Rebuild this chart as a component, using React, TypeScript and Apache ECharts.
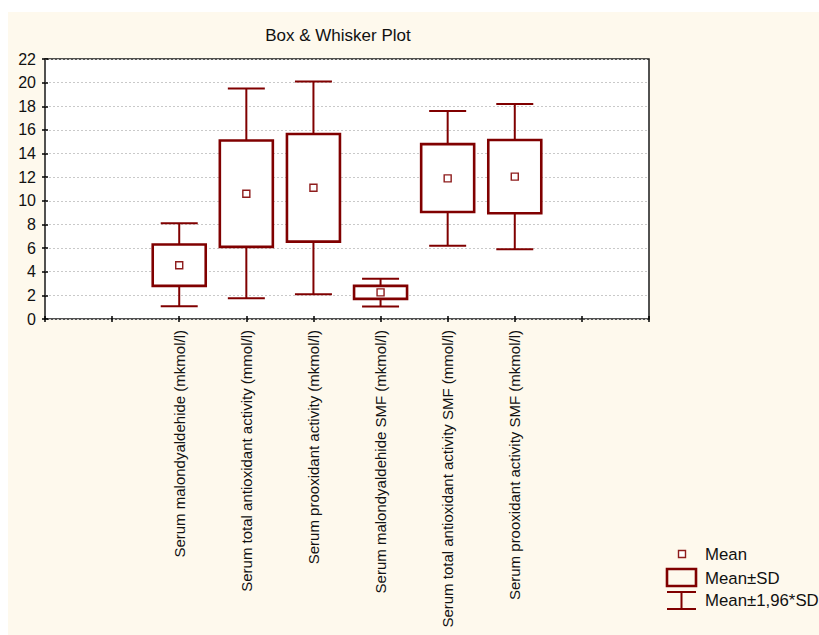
import React, { useEffect, useRef } from "react";
import * as echarts from "echarts";

const categories = [
  "Serum malondyaldehide (mkmol/l)",
  "Serum total antioxidant activity (mmol/l)",
  "Serum prooxidant activity (mkmol/l)",
  "Serum malondyaldehide SMF (mkmol/l)",
  "Serum total antioxidant activity SMF (mmol/l)",
  "Serum prooxidant activity SMF (mkmol/l)",
];
const positions = [2, 3, 4, 5, 6, 7];
const means = [4.55, 10.6, 11.1, 2.25, 11.9, 12.05];
const sdLower = [2.8, 6.1, 6.55, 1.7, 9.05, 8.95];
const sdUpper = [6.3, 15.1, 15.65, 2.8, 14.8, 15.15];
const ciLower = [1.08, 1.75, 2.1, 1.05, 6.2, 5.9];
const ciUpper = [8.1, 19.5, 20.1, 3.4, 17.6, 18.2];
const yTicks = [0, 2, 4, 6, 8, 10, 12, 14, 16, 18, 20, 22];

const RED = "#800000";
const FONT = "'Liberation Sans', Arial, sans-serif";
const TEXT = "#111";

export default function App() {
  const ref = useRef<HTMLDivElement>(null);
  useEffect(() => {
    if (!ref.current) return;
    const chart = echarts.init(ref.current, null, { renderer: "svg" });
    const boxData = positions.map((p, i) => [p, ciLower[i], sdLower[i], sdUpper[i], ciUpper[i]]);
    const meanData = positions.map((p, i) => [p, means[i]]);
    const yMin = yTicks[0];
    const yMax = yTicks[yTicks.length - 1];
    const yInt = yTicks[1] - yTicks[0];
    const labelFor = (v: number) => {
      const idx = positions.indexOf(v);
      return idx >= 0 ? categories[idx] : "";
    };
    const option: any = {
      animation: false,
      backgroundColor: "#fef9ed",
      textStyle: { fontFamily: FONT },
      grid: {
        left: 37,
        right: 170,
        top: 47,
        bottom: 316,
        show: true,
        backgroundColor: "#ffffff",
        borderColor: "#1a1a1a",
        borderWidth: 1.5,
      },
      xAxis: [
        {
          type: "value",
          min: 0,
          max: 9,
          interval: 1,
          position: "bottom",
          splitLine: { show: false },
          axisLine: { show: false },
          axisTick: { show: true, inside: true, length: 3, lineStyle: { color: "#000", width: 1.5 } },
          axisLabel: {
            rotate: 90,
            margin: 11,
            formatter: (v: number) => labelFor(v),
            fontSize: 15,
            color: TEXT,
            fontFamily: FONT,
            showMinLabel: true,
            showMaxLabel: true,
          },
        },
        {
          type: "value",
          min: 0,
          max: 9,
          interval: 1,
          position: "top",
          splitLine: { show: false },
          axisLine: { show: false },
          axisTick: { show: true, inside: true, length: 3, lineStyle: { color: "#000", width: 1.5 } },
          axisLabel: { show: false },
        },
      ],
      yAxis: [
        {
          type: "value",
          min: yMin,
          max: yMax,
          interval: yInt,
          position: "left",
          axisLine: { show: false },
          axisTick: { show: true, inside: true, length: 3, lineStyle: { color: "#000", width: 1.5 } },
          axisLabel: { margin: 9, fontSize: 16, color: TEXT, fontFamily: FONT },
          splitLine: { show: true, lineStyle: { color: "#c9c9c9", type: [2, 2], width: 1 } },
        },
        {
          type: "value",
          min: yMin,
          max: yMax,
          interval: yInt,
          position: "right",
          axisLine: { show: false },
          axisTick: { show: true, inside: true, length: 3, lineStyle: { color: "#000", width: 1.5 } },
          axisLabel: { show: false },
          splitLine: { show: false },
        },
      ],
      series: [
        {
          type: "custom",
          xAxisIndex: 0,
          yAxisIndex: 0,
          data: boxData,
          encode: { x: 0, y: [1, 2, 3, 4] },
          z: 3,
          renderItem: (params: any, api: any) => {
            const x = api.value(0);
            const pCiLow = api.coord([x, api.value(1)]);
            const pSdLow = api.coord([x, api.value(2)]);
            const pSdHigh = api.coord([x, api.value(3)]);
            const pCiHigh = api.coord([x, api.value(4)]);
            const cx = pCiLow[0];
            const boxW = 53;
            const capW = 37;
            const ls = { stroke: RED, lineWidth: 2 };
            return {
              type: "group",
              children: [
                { type: "line", shape: { x1: cx, y1: pCiLow[1], x2: cx, y2: pSdLow[1] }, style: ls },
                { type: "line", shape: { x1: cx, y1: pCiHigh[1], x2: cx, y2: pSdHigh[1] }, style: ls },
                { type: "line", shape: { x1: cx - capW / 2, y1: pCiLow[1], x2: cx + capW / 2, y2: pCiLow[1] }, style: ls },
                { type: "line", shape: { x1: cx - capW / 2, y1: pCiHigh[1], x2: cx + capW / 2, y2: pCiHigh[1] }, style: ls },
                {
                  type: "rect",
                  shape: { x: cx - boxW / 2, y: pSdHigh[1], width: boxW, height: pSdLow[1] - pSdHigh[1] },
                  style: { fill: "#ffffff", stroke: RED, lineWidth: 2.6 },
                },
              ],
            };
          },
        },
        {
          type: "scatter",
          xAxisIndex: 0,
          yAxisIndex: 0,
          data: meanData,
          symbol: "rect",
          symbolSize: 7,
          z: 5,
          itemStyle: { color: "#ffffff", borderColor: "#8e1c1c", borderWidth: 1.4, opacity: 1 },
        },
      ],
      graphic: [
        {
          type: "text",
          x: 330,
          y: 23,
          style: {
            text: "Box & Whisker Plot",
            fontSize: 17,
            fontFamily: FONT,
            fill: TEXT,
            align: "center",
            verticalAlign: "middle",
          },
        },
        {
          type: "rect",
          shape: { x: 670.5, y: 538.5, width: 7, height: 7 },
          style: { fill: "#ffffff", stroke: "#8e1c1c", lineWidth: 1.4 },
        },
        {
          type: "text",
          x: 697,
          y: 542,
          style: { text: "Mean", fontSize: 16.8, fontFamily: FONT, fill: TEXT, verticalAlign: "middle" },
        },
        {
          type: "rect",
          shape: { x: 659, y: 557, width: 29, height: 17 },
          style: { fill: "none", stroke: RED, lineWidth: 2.6 },
        },
        {
          type: "text",
          x: 697,
          y: 566,
          style: { text: "Mean±SD", fontSize: 16.8, fontFamily: FONT, fill: TEXT, verticalAlign: "middle" },
        },
        { type: "line", shape: { x1: 659, y1: 580, x2: 688, y2: 580 }, style: { stroke: RED, lineWidth: 2 } },
        { type: "line", shape: { x1: 673.5, y1: 580, x2: 673.5, y2: 597 }, style: { stroke: RED, lineWidth: 2 } },
        { type: "line", shape: { x1: 659, y1: 597, x2: 688, y2: 597 }, style: { stroke: RED, lineWidth: 2 } },
        {
          type: "text",
          x: 697,
          y: 588.5,
          style: { text: "Mean±1,96*SD", fontSize: 16.8, fontFamily: FONT, fill: TEXT, verticalAlign: "middle" },
        },
      ],
    };
    chart.setOption(option);
    return () => chart.dispose();
  }, []);
  return (
    <div
      ref={ref}
      style={{ position: "absolute", left: 8, top: 12, width: 811, height: 623 }}
    />
  );
}
